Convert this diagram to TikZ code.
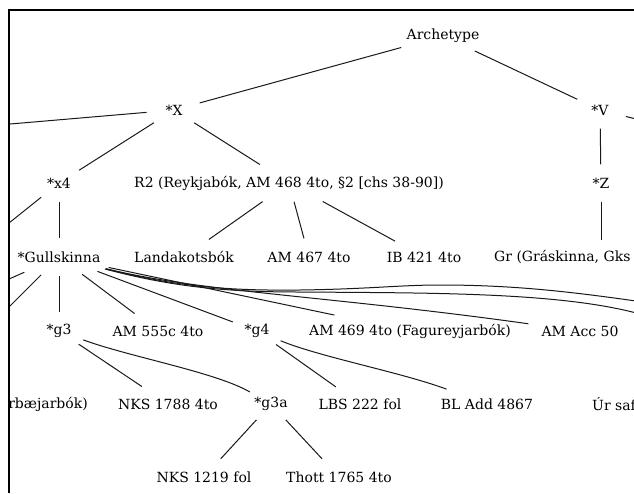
\documentclass[tikz,border=0pt]{standalone}
\usepackage{fontspec}
\setmainfont{DejaVu Serif}
\usetikzlibrary{shapes.geometric}
\begin{document}
\begin{tikzpicture}[x=1pt,y=-1pt,
  nd/.style={ellipse, minimum width=55pt, minimum height=37pt, inner sep=1pt, font=\fontsize{14}{16}\selectfont},
  cut/.style={rectangle, inner xsep=0pt, inner ysep=10pt, font=\fontsize{14}{16}\selectfont},
  edge/.style={draw=black!90, line width=1pt},
  frameline/.style={line width=2pt}]
\useasboundingbox (0,0) rectangle (634,493);
\begin{scope}
\clip (9,10) rectangle (634,493);
% nodes
\node[nd] (arch) at (443,36) {Archetype};
\node[nd] (X) at (174,110) {*X};
\node[nd] (V) at (600,110) {*V};
\node[nd] (xfour) at (59,183) {*x4};
\node[nd] (R2) at (289,183) {R2 (Reykjabók, AM 468 4to, §2 [chs 38-90])};
\node[nd] (Z) at (601,183) {*Z};
\node[nd] (gull) at (59,257) {*Gullskinna};
\node[nd] (landa) at (184,257) {Landakotsbók};
\node[nd] (am467) at (309,257) {AM 467 4to};
\node[nd] (ib421) at (424,257) {IB 421 4to};
\node[cut, anchor=west] (gr) at (494,257) {Gr (Gráskinna, Gks};
\node[nd] (g3) at (59,331) {*g3};
\node[nd] (am555) at (158,331) {AM 555c 4to};
\node[nd] (g4) at (257,331) {*g4};
\node[nd] (am469) at (410,331) {AM 469 4to (Fagureyjarbók)};
\node[nd] (acc50) at (580,331) {AM Acc 50};
\node[cut, anchor=east] (rbae) at (88,404) {rbæjarbók)};
\node[nd] (nks1788) at (168,404) {NKS 1788 4to};
\node[nd] (g3a) at (271,404) {*g3a};
\node[nd] (lbs) at (360,404) {LBS 222 fol};
\node[nd] (bladd) at (487,404) {BL Add 4867};
\node[cut, anchor=west] (ursafn) at (592,404) {Úr safn};
\node[nd] (nks1219) at (204,477) {NKS 1219 fol};
\node[nd] (thott) at (339,477) {Thott 1765 4to};
% off-picture ends
\coordinate (offX) at (-300,150.5);
\coordinate (offV) at (800,160);
\coordinate (offxfour) at (-41,263);
\coordinate (offGa) at (-150,349);
\coordinate (offGb) at (-61,377);
\coordinate (offA) at (650,303);
\coordinate (offB) at (640,314);
% edges
\draw[edge] (arch) -- (X);
\draw[edge] (arch) -- (V);
\draw[edge] (X) -- (offX);
\draw[edge] (X) -- (xfour);
\draw[edge] (X) -- (R2);
\draw[edge] (V) -- (Z);
\draw[edge] (V) -- (offV);
\draw[edge] (xfour) -- (offxfour);
\draw[edge] (xfour) -- (gull);
\draw[edge] (R2) -- (landa);
\draw[edge] (R2) -- (am467);
\draw[edge] (R2) -- (ib421);
\draw[edge] (Z) -- (Z |- gr.north);
\draw[edge] (offGa) -- (gull);
\draw[edge] (gull) -- (offGb);
\draw[edge] (gull) -- (g3);
\draw[edge] (gull) -- (am555);
\draw[edge] (gull) -- (g4);
\draw[edge] (gull) -- (am469);
\draw[edge] (gull) .. controls (200,292) and (330,296) .. (acc50);
\draw[edge] (gull) .. controls (170,285) and (220,291) .. (300,290)
  .. controls (370,289) and (400,285) .. (440,285)
  .. controls (520,285) and (580,293) .. (offA);
\draw[edge] (gull) .. controls (170,286) and (220,292) .. (300,292)
  .. controls (430,293) and (560,292) .. (offB);
\draw[edge] (g3) -- (nks1788);
\draw[edge] (g3) .. controls (130,357) and (215,372) .. (g3a);
\draw[edge] (g4) -- (lbs);
\draw[edge] (g4) .. controls (320,357) and (400,372) .. (bladd);
\draw[edge] (g3a) -- (nks1219);
\draw[edge] (g3a) -- (thott);
\end{scope}
\draw[frameline] (9,493) -- (9,10) -- (634,10);
\end{tikzpicture}
\end{document}
